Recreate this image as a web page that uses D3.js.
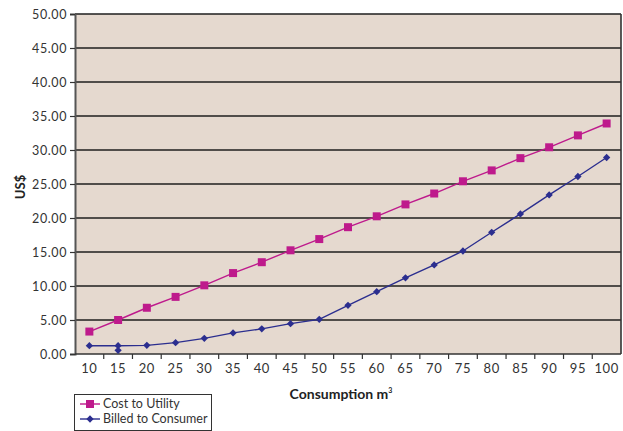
<!DOCTYPE html>
<html>
<head>
<meta charset="utf-8">
<script src="https://cdn.jsdelivr.net/npm/d3@7"></script>
<style>
  html, body { margin: 0; padding: 0; background: #fff; }
  svg { display: block; font-family: "Lato", "Open Sans", sans-serif; }
</style>
</head>
<body>
<svg id="chart" width="623" height="431"></svg>
<script>
// Consumption bands (m³)
const categories = [10, 15, 20, 25, 30, 35, 40, 45, 50, 55, 60, 65, 70, 75, 80, 85, 90, 95, 100];
// Cost to the utility, US$
const costToUtility = [3.3, 5.0, 6.8, 8.4, 10.1, 11.9, 13.5, 15.25, 16.9, 18.65, 20.25, 22.0, 23.6, 25.4, 27.0, 28.8, 30.4, 32.15, 33.9];
// Amount billed to the consumer, US$
const billedToConsumer = [1.22, 1.22, 1.27, 1.67, 2.3, 3.1, 3.7, 4.46, 5.1, 7.16, 9.17, 11.2, 13.1, 15.15, 17.9, 20.6, 23.4, 26.1, 28.9];
// Additional billed reading recorded at 15 m³
const billedExtra = [{ c: 15, v: 0.54 }];
const yTicks = [0, 5, 10, 15, 20, 25, 30, 35, 40, 45, 50];

const svg = d3.select("#chart");
const m = { left: 75, right: 2, top: 14, bottom: 77 };
const W = 623, H = 431;
const x = d3.scaleBand().domain(categories).range([m.left, W - m.right]);
const y = d3.scaleLinear().domain([0, 50]).range([H - m.bottom, m.top]);

const textColor = "#333";
const magenta = "#BE1A8C";
const navy = "#2B2E8F";

// Plot background
svg.append("rect")
  .attr("x", m.left).attr("y", m.top)
  .attr("width", W - m.right - m.left).attr("height", y(0) - m.top)
  .attr("fill", "#E5D9CF");

// Horizontal gridlines
svg.append("g").selectAll("line").data(yTicks.filter(d => d > 0)).join("line")
  .attr("x1", m.left).attr("x2", W - m.right)
  .attr("y1", d => y(d)).attr("y2", d => y(d))
  .attr("stroke", "#1e1e1e").attr("stroke-width", 1.4);

// Right border
svg.append("line")
  .attr("x1", W - m.right).attr("x2", W - m.right)
  .attr("y1", m.top).attr("y2", y(0))
  .attr("stroke", "#333").attr("stroke-width", 1.6);

// Y axis
const yAxis = svg.append("g")
  .attr("transform", `translate(${m.left},0)`)
  .call(d3.axisLeft(y).tickValues(yTicks).tickFormat(d3.format(".2f")).tickSize(5).tickPadding(3));
yAxis.select(".domain").attr("stroke", "#555").attr("stroke-width", 2);
yAxis.selectAll(".tick line").attr("stroke", "#333").attr("stroke-width", 1.2);
yAxis.selectAll(".tick text")
  .attr("fill", textColor).style("font-size", "12.5px").style("letter-spacing", "0.6px")
  .style("font-family", "Lato, sans-serif");

// X axis with ticks at band boundaries
const xAxis = svg.append("g").attr("transform", `translate(0,${y(0)})`);
xAxis.append("line")
  .attr("x1", m.left).attr("x2", W - m.right)
  .attr("stroke", "#333").attr("stroke-width", 1.6);
xAxis.selectAll("line.tk").data(categories.slice(1)).join("line")
  .attr("class", "tk")
  .attr("x1", d => x(d)).attr("x2", d => x(d))
  .attr("y1", 0).attr("y2", 5)
  .attr("stroke", "#333").attr("stroke-width", 1.2);
xAxis.selectAll("text").data(categories).join("text")
  .attr("x", d => x(d) + x.bandwidth() / 2)
  .attr("y", 19)
  .attr("text-anchor", "middle")
  .attr("fill", textColor)
  .style("font-size", "13px").style("letter-spacing", "0.6px")
  .text(d => d);

// Axis titles
svg.append("text")
  .attr("transform", `translate(25,187) rotate(-90)`)
  .attr("text-anchor", "middle")
  .attr("fill", "#222").style("font-size", "13px").style("font-weight", "bold")
  .text("US$");

const xt = svg.append("text")
  .attr("x", 341).attr("y", 399)
  .attr("text-anchor", "middle")
  .attr("fill", "#222").style("font-size", "14px").style("font-weight", "bold");
xt.append("tspan").text("Consumption m");
xt.append("tspan").attr("dy", -6).style("font-size", "7px").text("3");

// Series
const cx = d => x(d) + x.bandwidth() / 2;
const line = d3.line().x(d => cx(d.c)).y(d => y(d.v));
const costData = categories.map((c, i) => ({ c, v: costToUtility[i] }));
const billData = categories.map((c, i) => ({ c, v: billedToConsumer[i] }));

svg.append("path").datum(costData).attr("d", line)
  .attr("fill", "none").attr("stroke", magenta).attr("stroke-width", 1.4);
svg.append("path").datum(billData).attr("d", line)
  .attr("fill", "none").attr("stroke", navy).attr("stroke-width", 1.4);

const square = d3.symbol().type(d3.symbolSquare).size(64);
const diamond = d3.symbol().type(d3.symbolDiamond2).size(34);

svg.append("g").selectAll("path").data(costData).join("path")
  .attr("d", square)
  .attr("transform", d => `translate(${cx(d.c)},${y(d.v)})`)
  .attr("fill", magenta);
svg.append("g").selectAll("path").data(billData.concat(billedExtra)).join("path")
  .attr("d", diamond)
  .attr("transform", d => `translate(${cx(d.c)},${y(d.v)})`)
  .attr("fill", navy);

// Legend
const lg = svg.append("g");
lg.append("rect").attr("x", 74.5).attr("y", 394.5).attr("width", 137).attr("height", 36)
  .attr("fill", "#fff").attr("stroke", "#333").attr("stroke-width", 1);
const items = [
  { label: "Cost to Utility", color: magenta, sym: square, yy: 404 },
  { label: "Billed to Consumer", color: navy, sym: diamond, yy: 419 }
];
items.forEach(it => {
  lg.append("line").attr("x1", 80).attr("x2", 100).attr("y1", it.yy).attr("y2", it.yy)
    .attr("stroke", it.color).attr("stroke-width", 1.4);
  lg.append("path").attr("d", it.sym).attr("transform", `translate(90,${it.yy})`).attr("fill", it.color);
  lg.append("text").attr("x", 103).attr("y", it.yy + 4)
    .attr("fill", textColor).style("font-size", "12.5px")
    .text(it.label);
});
</script>
</body>
</html>
